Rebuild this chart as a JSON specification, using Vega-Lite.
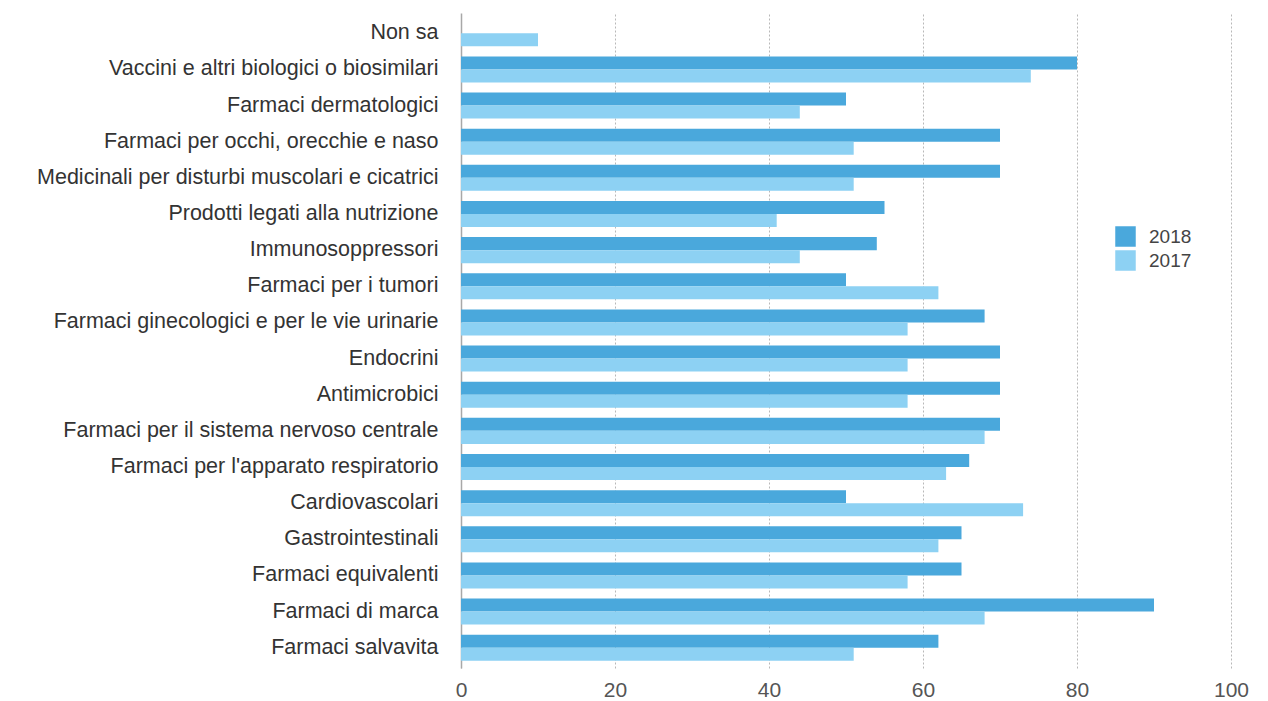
{
  "$schema": "https://vega.github.io/schema/vega-lite/v6.json",
  "autosize": {"type": "none"},
  "width": 770,
  "height": 655,
  "padding": {"left": 461, "top": 13, "right": 37, "bottom": 33},
  "background": "white",
  "data": {
    "values": [
      {"categoria": "Non sa", "anno": "2017", "valore": 10},
      {"categoria": "Vaccini e altri biologici o biosimilari", "anno": "2018", "valore": 80},
      {"categoria": "Vaccini e altri biologici o biosimilari", "anno": "2017", "valore": 74},
      {"categoria": "Farmaci dermatologici", "anno": "2018", "valore": 50},
      {"categoria": "Farmaci dermatologici", "anno": "2017", "valore": 44},
      {"categoria": "Farmaci per occhi, orecchie e naso", "anno": "2018", "valore": 70},
      {"categoria": "Farmaci per occhi, orecchie e naso", "anno": "2017", "valore": 51},
      {"categoria": "Medicinali per disturbi muscolari e cicatrici", "anno": "2018", "valore": 70},
      {"categoria": "Medicinali per disturbi muscolari e cicatrici", "anno": "2017", "valore": 51},
      {"categoria": "Prodotti legati alla nutrizione", "anno": "2018", "valore": 55},
      {"categoria": "Prodotti legati alla nutrizione", "anno": "2017", "valore": 41},
      {"categoria": "Immunosoppressori", "anno": "2018", "valore": 54},
      {"categoria": "Immunosoppressori", "anno": "2017", "valore": 44},
      {"categoria": "Farmaci per i tumori", "anno": "2018", "valore": 50},
      {"categoria": "Farmaci per i tumori", "anno": "2017", "valore": 62},
      {"categoria": "Farmaci ginecologici e per le vie urinarie", "anno": "2018", "valore": 68},
      {"categoria": "Farmaci ginecologici e per le vie urinarie", "anno": "2017", "valore": 58},
      {"categoria": "Endocrini", "anno": "2018", "valore": 70},
      {"categoria": "Endocrini", "anno": "2017", "valore": 58},
      {"categoria": "Antimicrobici", "anno": "2018", "valore": 70},
      {"categoria": "Antimicrobici", "anno": "2017", "valore": 58},
      {"categoria": "Farmaci per il sistema nervoso centrale", "anno": "2018", "valore": 70},
      {"categoria": "Farmaci per il sistema nervoso centrale", "anno": "2017", "valore": 68},
      {"categoria": "Farmaci per l'apparato respiratorio", "anno": "2018", "valore": 66},
      {"categoria": "Farmaci per l'apparato respiratorio", "anno": "2017", "valore": 63},
      {"categoria": "Cardiovascolari", "anno": "2018", "valore": 50},
      {"categoria": "Cardiovascolari", "anno": "2017", "valore": 73},
      {"categoria": "Gastrointestinali", "anno": "2018", "valore": 65},
      {"categoria": "Gastrointestinali", "anno": "2017", "valore": 62},
      {"categoria": "Farmaci equivalenti", "anno": "2018", "valore": 65},
      {"categoria": "Farmaci equivalenti", "anno": "2017", "valore": 58},
      {"categoria": "Farmaci di marca", "anno": "2018", "valore": 90},
      {"categoria": "Farmaci di marca", "anno": "2017", "valore": 68},
      {"categoria": "Farmaci salvavita", "anno": "2018", "valore": 62},
      {"categoria": "Farmaci salvavita", "anno": "2017", "valore": 51}
    ]
  },
  "mark": {"type": "bar"},
  "encoding": {
    "y": {
      "field": "categoria",
      "type": "nominal",
      "sort": null,
      "scale": {"paddingInner": 0.28, "paddingOuter": 0.2},
      "axis": {
        "title": null,
        "ticks": false,
        "labelPadding": 23,
        "labelFontSize": 21.5,
        "labelColor": "#333333",
        "labelLimit": 460,
        "domainColor": "#a8a8a8",
        "domainWidth": 1.5,
        "grid": false
      }
    },
    "yOffset": {
      "field": "anno",
      "type": "nominal",
      "sort": ["2018", "2017"],
      "scale": {"paddingInner": 0, "paddingOuter": 0}
    },
    "x": {
      "field": "valore",
      "type": "quantitative",
      "scale": {"domain": [0, 100], "nice": false},
      "axis": {
        "title": null,
        "values": [0, 20, 40, 60, 80, 100],
        "ticks": false,
        "domain": false,
        "labelFlush": false,
        "labelPadding": 11,
        "labelFontSize": 21,
        "labelColor": "#555555",
        "grid": true,
        "gridColor": "#b8b8b8",
        "gridDash": [2, 2],
        "gridWidth": 1
      }
    },
    "color": {
      "field": "anno",
      "type": "nominal",
      "sort": ["2018", "2017"],
      "scale": {"domain": ["2018", "2017"], "range": ["#4aa8dc", "#8dd1f3"]},
      "legend": {
        "title": null,
        "orient": "none",
        "legendX": 654,
        "legendY": 213,
        "symbolType": "square",
        "symbolSize": 420,
        "symbolStrokeWidth": 0,
        "labelFontSize": 19,
        "labelColor": "#444444",
        "labelOffset": 13,
        "rowPadding": 3,
        "padding": 0
      }
    }
  },
  "config": {
    "font": "Liberation Sans",
    "view": {"stroke": null}
  }
}
